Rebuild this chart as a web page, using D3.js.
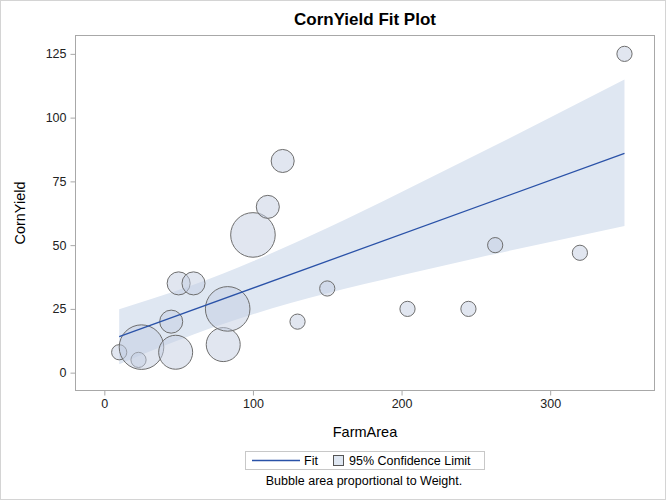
<!DOCTYPE html>
<html>
<head>
<meta charset="utf-8">
<script src="https://cdn.jsdelivr.net/npm/d3@7"></script>
<style>
  html, body { margin: 0; padding: 0; background: #fff; }
  svg { display: block; font-family: "Liberation Sans", Arial, sans-serif; }
</style>
</head>
<body>
<script>
// ---- Data ----
const farmArea  = [10, 23, 25, 45, 48, 50, 60, 80, 83, 100, 110, 120, 130, 150, 204, 245, 263, 320, 350];
const cornYield = [8, 5, 10, 20, 8, 35, 35, 11, 25, 54, 65, 83, 20, 33, 25, 25, 50, 47, 125];
const weight    = [1, 1, 8.6, 2.3, 5, 2.3, 2.3, 5, 8.6, 8.6, 2.3, 2.3, 1, 1, 1, 1, 1, 1, 1];

const fitX = [10, 350];
const fitY = [14.1, 86.0];

const bandX     = [10, 30, 60, 100, 150, 200, 250, 300, 350];
const bandUpper = [24.9, 28.6, 34.5, 43.7, 56.7, 70.8, 85.3, 100.0, 114.9];
const bandLower = [3.3, 8.2, 15.0, 22.9, 31.1, 38.2, 44.9, 51.2, 57.5];

const xTicks = [0, 100, 200, 300];
const yTicks = [0, 25, 50, 75, 100, 125];

const titleText = "CornYield Fit Plot";
const xLabel = "FarmArea";
const yLabel = "CornYield";
const legendItems = ["Fit", "95% Confidence Limit"];
const footnote = "Bubble area proportional to Weight.";

// ---- Layout ----
const W = 666, H = 500;
const frame = { left: 75.5, right: 654.5, top: 35.5, bottom: 390.5 };

const svg = d3.select("body").append("svg").attr("width", W).attr("height", H);

// outer border
svg.append("rect").attr("x", 0.5).attr("y", 0.5).attr("width", W - 1).attr("height", H - 1)
  .attr("fill", "#fff").attr("stroke", "#d4d4d4");

const x = d3.scaleLinear().domain([-19.4, 370.2]).range([frame.left, frame.right]);
const y = d3.scaleLinear().domain([-7.0, 132.2]).range([frame.bottom, frame.top]);
const r = d3.scaleSqrt().domain([0, 1]).range([0, 7.6]);

const bandColor = "#dfe7f2";
const fitColor = "#2a52a8";

// confidence band
const bandData = bandX.map((d, i) => ({ x: d, lo: bandLower[i], hi: bandUpper[i] }));
svg.append("path").datum(bandData)
  .attr("fill", bandColor)
  .attr("d", d3.area().x(d => x(d.x)).y0(d => y(d.lo)).y1(d => y(d.hi)).curve(d3.curveMonotoneX));

// bubbles
const pts = farmArea.map((d, i) => ({ x: d, y: cornYield[i], w: weight[i] }));
svg.append("g").selectAll("circle").data(pts).join("circle")
  .attr("cx", d => x(d.x)).attr("cy", d => y(d.y)).attr("r", d => r(d.w))
  .attr("fill", "#c4cde1").attr("fill-opacity", 0.5)
  .attr("stroke", "#6e6e6e").attr("stroke-width", 1);

// fit line
svg.append("path").datum(fitX.map((d, i) => [d, fitY[i]]))
  .attr("fill", "none").attr("stroke", fitColor).attr("stroke-width", 1.3)
  .attr("d", d3.line().x(d => x(d[0])).y(d => y(d[1])));

// frame
svg.append("rect").attr("x", frame.left).attr("y", frame.top)
  .attr("width", frame.right - frame.left).attr("height", frame.bottom - frame.top)
  .attr("fill", "none").attr("stroke", "#a8a8a8");

// axes
const xAxis = svg.append("g").attr("transform", `translate(0,${frame.bottom})`)
  .call(d3.axisBottom(x).tickValues(xTicks).tickSize(5).tickSizeOuter(0).tickPadding(4));
const yAxis = svg.append("g").attr("transform", `translate(${frame.left},0)`)
  .call(d3.axisLeft(y).tickValues(yTicks).tickSize(5).tickSizeOuter(0).tickPadding(4));
[xAxis, yAxis].forEach(a => {
  a.select(".domain").remove();
  a.selectAll(".tick line").attr("stroke", "#a8a8a8");
  a.selectAll(".tick text").attr("fill", "#222").style("font-size", "12.5px")
    .style("font-family", "'Liberation Sans', Arial, sans-serif");
});

// title
svg.append("text").attr("x", (frame.left + frame.right) / 2).attr("y", 25)
  .attr("text-anchor", "middle").style("font-weight", "bold").style("font-size", "17px")
  .attr("fill", "#000").text(titleText);

// axis labels
svg.append("text").attr("x", (frame.left + frame.right) / 2).attr("y", 437)
  .attr("text-anchor", "middle").style("font-size", "14.5px").attr("fill", "#000").text(xLabel);
svg.append("text").attr("transform", `translate(25,${(frame.top + frame.bottom) / 2}) rotate(-90)`)
  .attr("text-anchor", "middle").style("font-size", "14.5px").attr("fill", "#000").text(yLabel);

// legend
const lg = svg.append("g");
lg.append("rect").attr("x", 245.5).attr("y", 451.5).attr("width", 239).attr("height", 18)
  .attr("fill", "#fff").attr("stroke", "#c8c8c8");
lg.append("line").attr("x1", 252).attr("x2", 300).attr("y1", 460.5).attr("y2", 460.5)
  .attr("stroke", fitColor).attr("stroke-width", 1.3);
lg.append("text").attr("x", 304).attr("y", 465).style("font-size", "12.5px").attr("fill", "#000").text(legendItems[0]);
lg.append("rect").attr("x", 333.5).attr("y", 455.5).attr("width", 10).attr("height", 10)
  .attr("fill", bandColor).attr("stroke", "#555");
lg.append("text").attr("x", 349).attr("y", 465).style("font-size", "12.5px").attr("fill", "#000").text(legendItems[1]);

// footnote
svg.append("text").attr("x", 364).attr("y", 485).attr("text-anchor", "middle")
  .style("font-size", "12.5px").attr("fill", "#000").text(footnote);
</script>
</body>
</html>
